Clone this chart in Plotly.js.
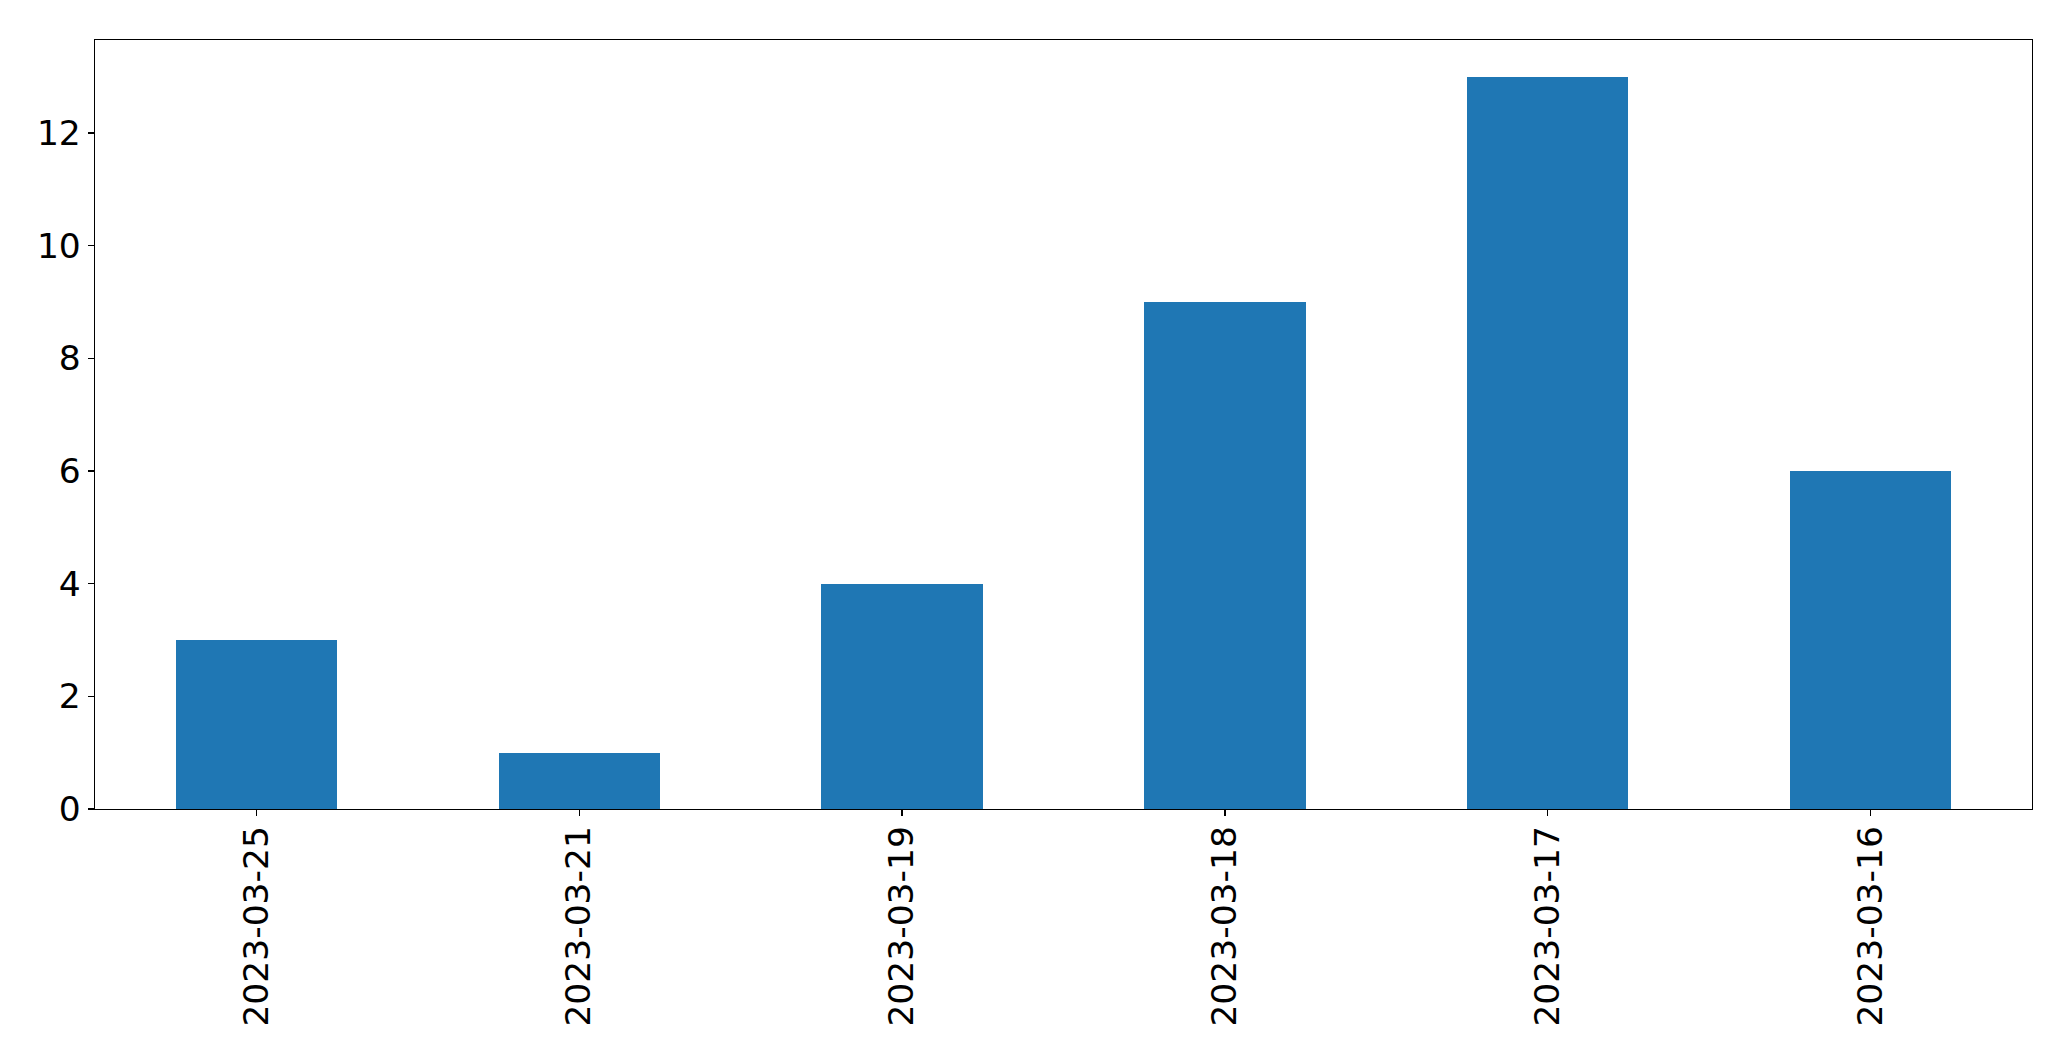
<!DOCTYPE html>
<html>
<head>
<meta charset="utf-8">
<script src="https://cdn.plot.ly/plotly-3.0.1.min.js"></script>
<style>html,body{margin:0;padding:0;background:#fff;}#chart{width:2071px;height:1061px;}</style>
</head>
<body>
<div id="chart"></div>
<script>
const categories = ["2023-03-25", "2023-03-21", "2023-03-19", "2023-03-18", "2023-03-17", "2023-03-16"];
const counts = [3, 1, 4, 9, 13, 6];
const yTicks = [0, 2, 4, 6, 8, 10, 12];

const trace = {
  type: 'bar',
  x: categories,
  y: counts,
  width: 0.5,
  marker: {color: '#1f77b4', line: {width: 0}},
  hoverinfo: 'x+y'
};

const font = {family: 'DejaVu Sans, sans-serif', size: 34.5, color: '#000'};

const layout = {
  width: 2071,
  height: 1061,
  margin: {l: 94.5, r: 39, t: 39.5, b: 252, pad: 0},
  paper_bgcolor: '#fff',
  plot_bgcolor: '#fff',
  showlegend: false,
  bargap: 0,
  font: font,
  xaxis: {
    type: 'category',
    range: [-0.5, 5.5],
    tickangle: -90,
    ticks: 'outside',
    ticklen: 6,
    tickwidth: 1.3,
    tickcolor: '#000',
    ticklabelstandoff: -4,
    showline: true,
    mirror: true,
    linecolor: '#000',
    linewidth: 1.3,
    showgrid: false,
    zeroline: false,
    tickfont: font
  },
  yaxis: {
    range: [0, 13.65],
    tickvals: yTicks,
    ticktext: yTicks.map(String),
    ticks: 'outside',
    ticklen: 6,
    tickwidth: 1.3,
    tickcolor: '#000',
    showline: true,
    mirror: true,
    linecolor: '#000',
    linewidth: 1.3,
    showgrid: false,
    zeroline: false,
    tickfont: font
  }
};

Plotly.newPlot('chart', [trace], layout, {displayModeBar: false, staticPlot: true});
</script>
</body>
</html>
